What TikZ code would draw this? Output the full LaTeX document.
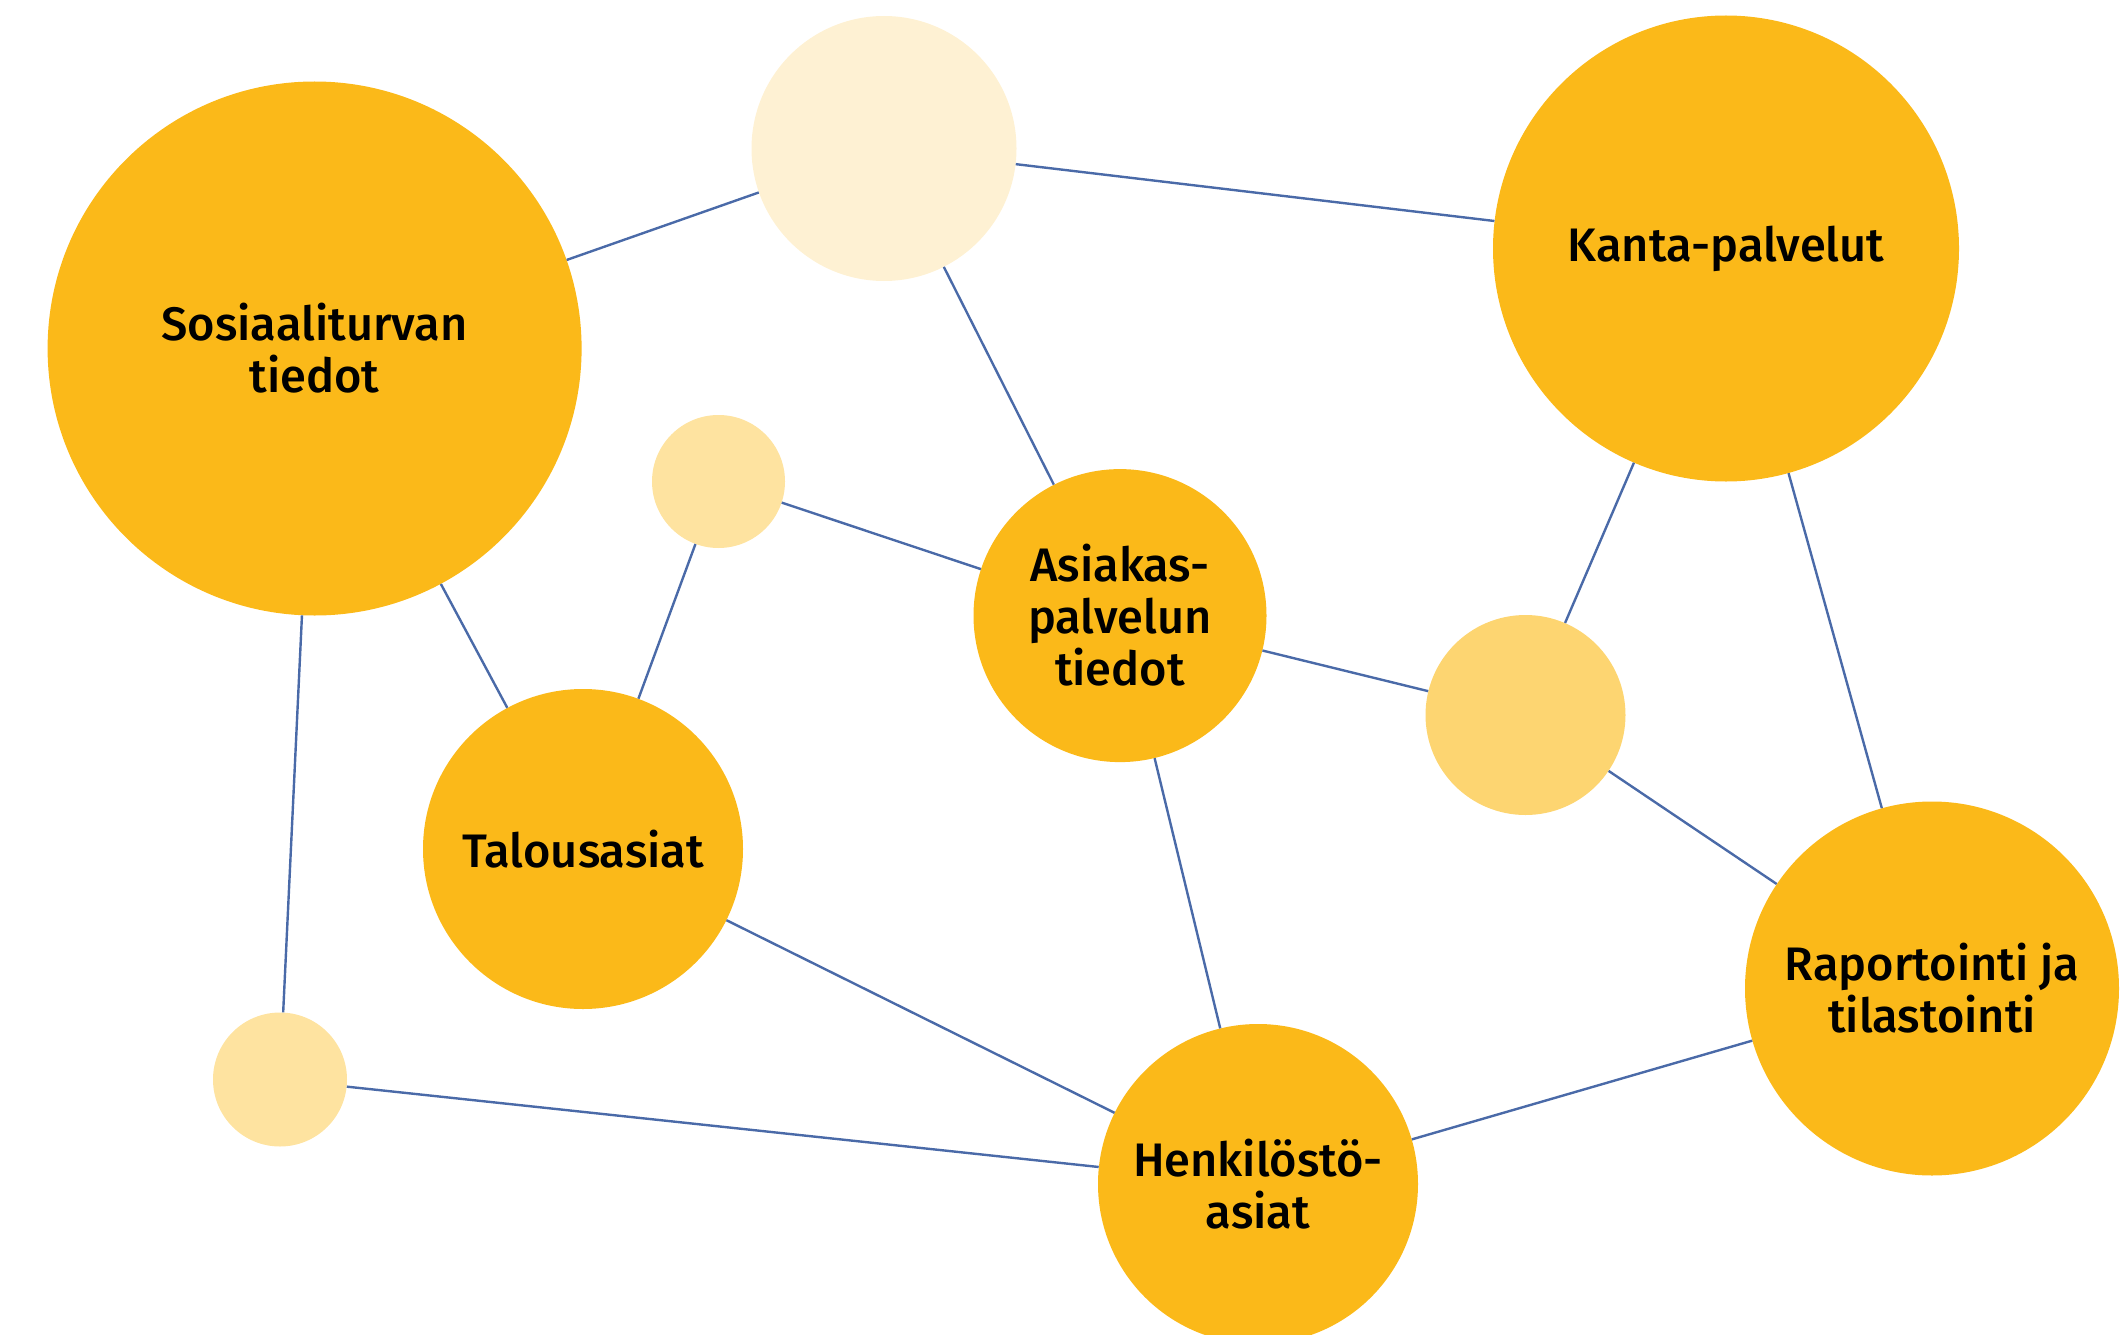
\documentclass[tikz,border=0pt]{standalone}
\usepackage{fontspec}
\setmainfont{Fira Sans}[UprightFont={* Medium}]
\definecolor{mainorange}{HTML}{FBB919}
\definecolor{palelight}{HTML}{FEF1D3}
\definecolor{smalllight}{HTML}{FEE3A0}
\definecolor{midlight}{HTML}{FDD571}
\definecolor{edgeblue}{HTML}{4A6AA8}
\tikzset{
  bubble/.style={circle, fill=#1, draw=none, inner sep=0pt, align=center,
    font=\fontsize{47}{52}\selectfont, text=black},
  link/.style={draw=edgeblue, line width=2.4pt}
}
\begin{document}
\begin{tikzpicture}[x=1pt,y=-1pt]
\useasboundingbox (0,0) rectangle (2126,1335);
\begin{scope}
\clip (0,0) rectangle (2126,1335);
\node[bubble=mainorange, minimum size=534pt] (S) at (314.6,348.5) {Sosiaaliturvan\\tiedot};
\node[bubble=palelight, minimum size=265pt] (T) at (884,148.5) {};
\node[bubble=mainorange, minimum size=466pt] (K) at (1726,248.5) {Kanta-palvelut};
\node[bubble=smalllight, minimum size=133pt] (SA) at (718.5,481.5) {};
\node[bubble=mainorange, minimum size=293pt] (A) at (1120,615.6) {Asiakas-\\palvelun\\tiedot};
\node[bubble=midlight, minimum size=200pt] (M) at (1525.5,715) {};
\node[bubble=mainorange, minimum size=320pt] (Tal) at (583,849) {Talousasiat};
\node[bubble=mainorange, minimum size=374pt] (R) at (1932,988.5) {Raportointi ja\\tilastointi};
\node[bubble=smalllight, minimum size=134pt] (BL) at (280,1079.5) {};
\node[bubble=mainorange, minimum size=320pt] (H) at (1258,1184) {Henkilöstö-\\asiat};
\end{scope}
\draw[link] (S) -- (T);
\draw[link] (T) -- (K);
\draw[link] (T) -- (A);
\draw[link] (S) -- (Tal);
\draw[link] (S) -- (BL);
\draw[link] (SA) -- (A);
\draw[link] (SA) -- (Tal);
\draw[link] (A) -- (M);
\draw[link] (A) -- (H);
\draw[link] (K) -- (M);
\draw[link] (K) -- (R);
\draw[link] (M) -- (R);
\draw[link] (Tal) -- (H);
\draw[link] (BL) -- (H);
\draw[link] (H) -- (R);
\end{tikzpicture}
\end{document}
